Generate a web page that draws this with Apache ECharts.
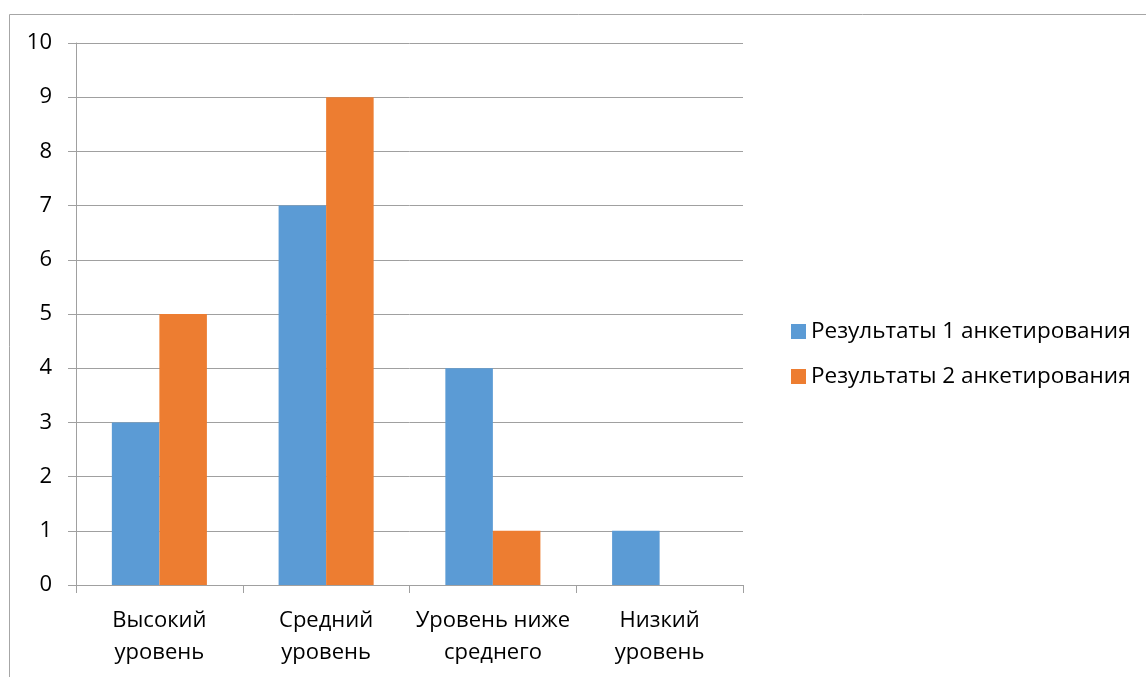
<!DOCTYPE html>
<html>
<head>
<meta charset="utf-8">
<script src="https://cdn.jsdelivr.net/npm/echarts@6/dist/echarts.min.js"></script>
<style>
  html, body { margin: 0; padding: 0; background: #fff; }
  #chart { width: 1146px; height: 677px; }
</style>
</head>
<body>
<div id="chart"></div>
<script>
// данные диаграммы
const categories = ['Высокий\nуровень', 'Средний\nуровень', 'Уровень ниже\nсреднего', 'Низкий\nуровень']
const seriesNames = ['Результаты 1 анкетирования', 'Результаты 2 анкетирования']
const survey1 = [3, 7, 4, 1]
const survey2 = [5, 9, 1, 0]
const colors = ['#5B9BD5', '#ED7D31']

const font = '"Open Sans", "DejaVu Sans", sans-serif'
const chart = echarts.init(document.getElementById('chart'))

chart.setOption({
  animation: false,
  textStyle: { fontFamily: font },
  graphic: [{
    type: 'rect',
    left: 7,
    top: 12,
    shape: { width: 1300, height: 800 },
    style: { fill: 'none', stroke: '#a6a6a6', lineWidth: 1 },
    silent: true
  }],
  grid: {
    left: 76,
    right: 403,
    top: 43,
    bottom: 92
  },
  legend: {
    orient: 'vertical',
    left: 786,
    top: 315,
    itemWidth: 15,
    itemHeight: 15,
    itemGap: 22,
    icon: 'rect',
    textStyle: { fontSize: 22.5, color: '#000', fontFamily: font },
    data: seriesNames
  },
  xAxis: {
    type: 'category',
    data: categories,
    axisLine: { lineStyle: { color: '#a0a0a0' } },
    axisTick: { show: true, length: 8, lineStyle: { color: '#a0a0a0' } },
    axisLabel: {
      color: '#000',
      fontSize: 22,
      lineHeight: 32,
      margin: 20,
      interval: 0,
      fontFamily: font
    }
  },
  yAxis: {
    type: 'value',
    min: 0,
    max: 10,
    interval: 1,
    axisLine: { show: true, lineStyle: { color: '#a0a0a0' } },
    axisTick: { show: true, length: 8, lineStyle: { color: '#a0a0a0' } },
    splitLine: { lineStyle: { color: '#a0a0a0' } },
    axisLabel: { color: '#000', fontSize: 22, margin: 24, fontFamily: font }
  },
  series: [{
    name: seriesNames[0],
    type: 'bar',
    data: survey1,
    barGap: '0%',
    barCategoryGap: '43%',
    itemStyle: { color: colors[0] }
  }, {
    name: seriesNames[1],
    type: 'bar',
    data: survey2,
    barGap: '0%',
    barCategoryGap: '43%',
    itemStyle: { color: colors[1] }
  }]
})
</script>
</body>
</html>
